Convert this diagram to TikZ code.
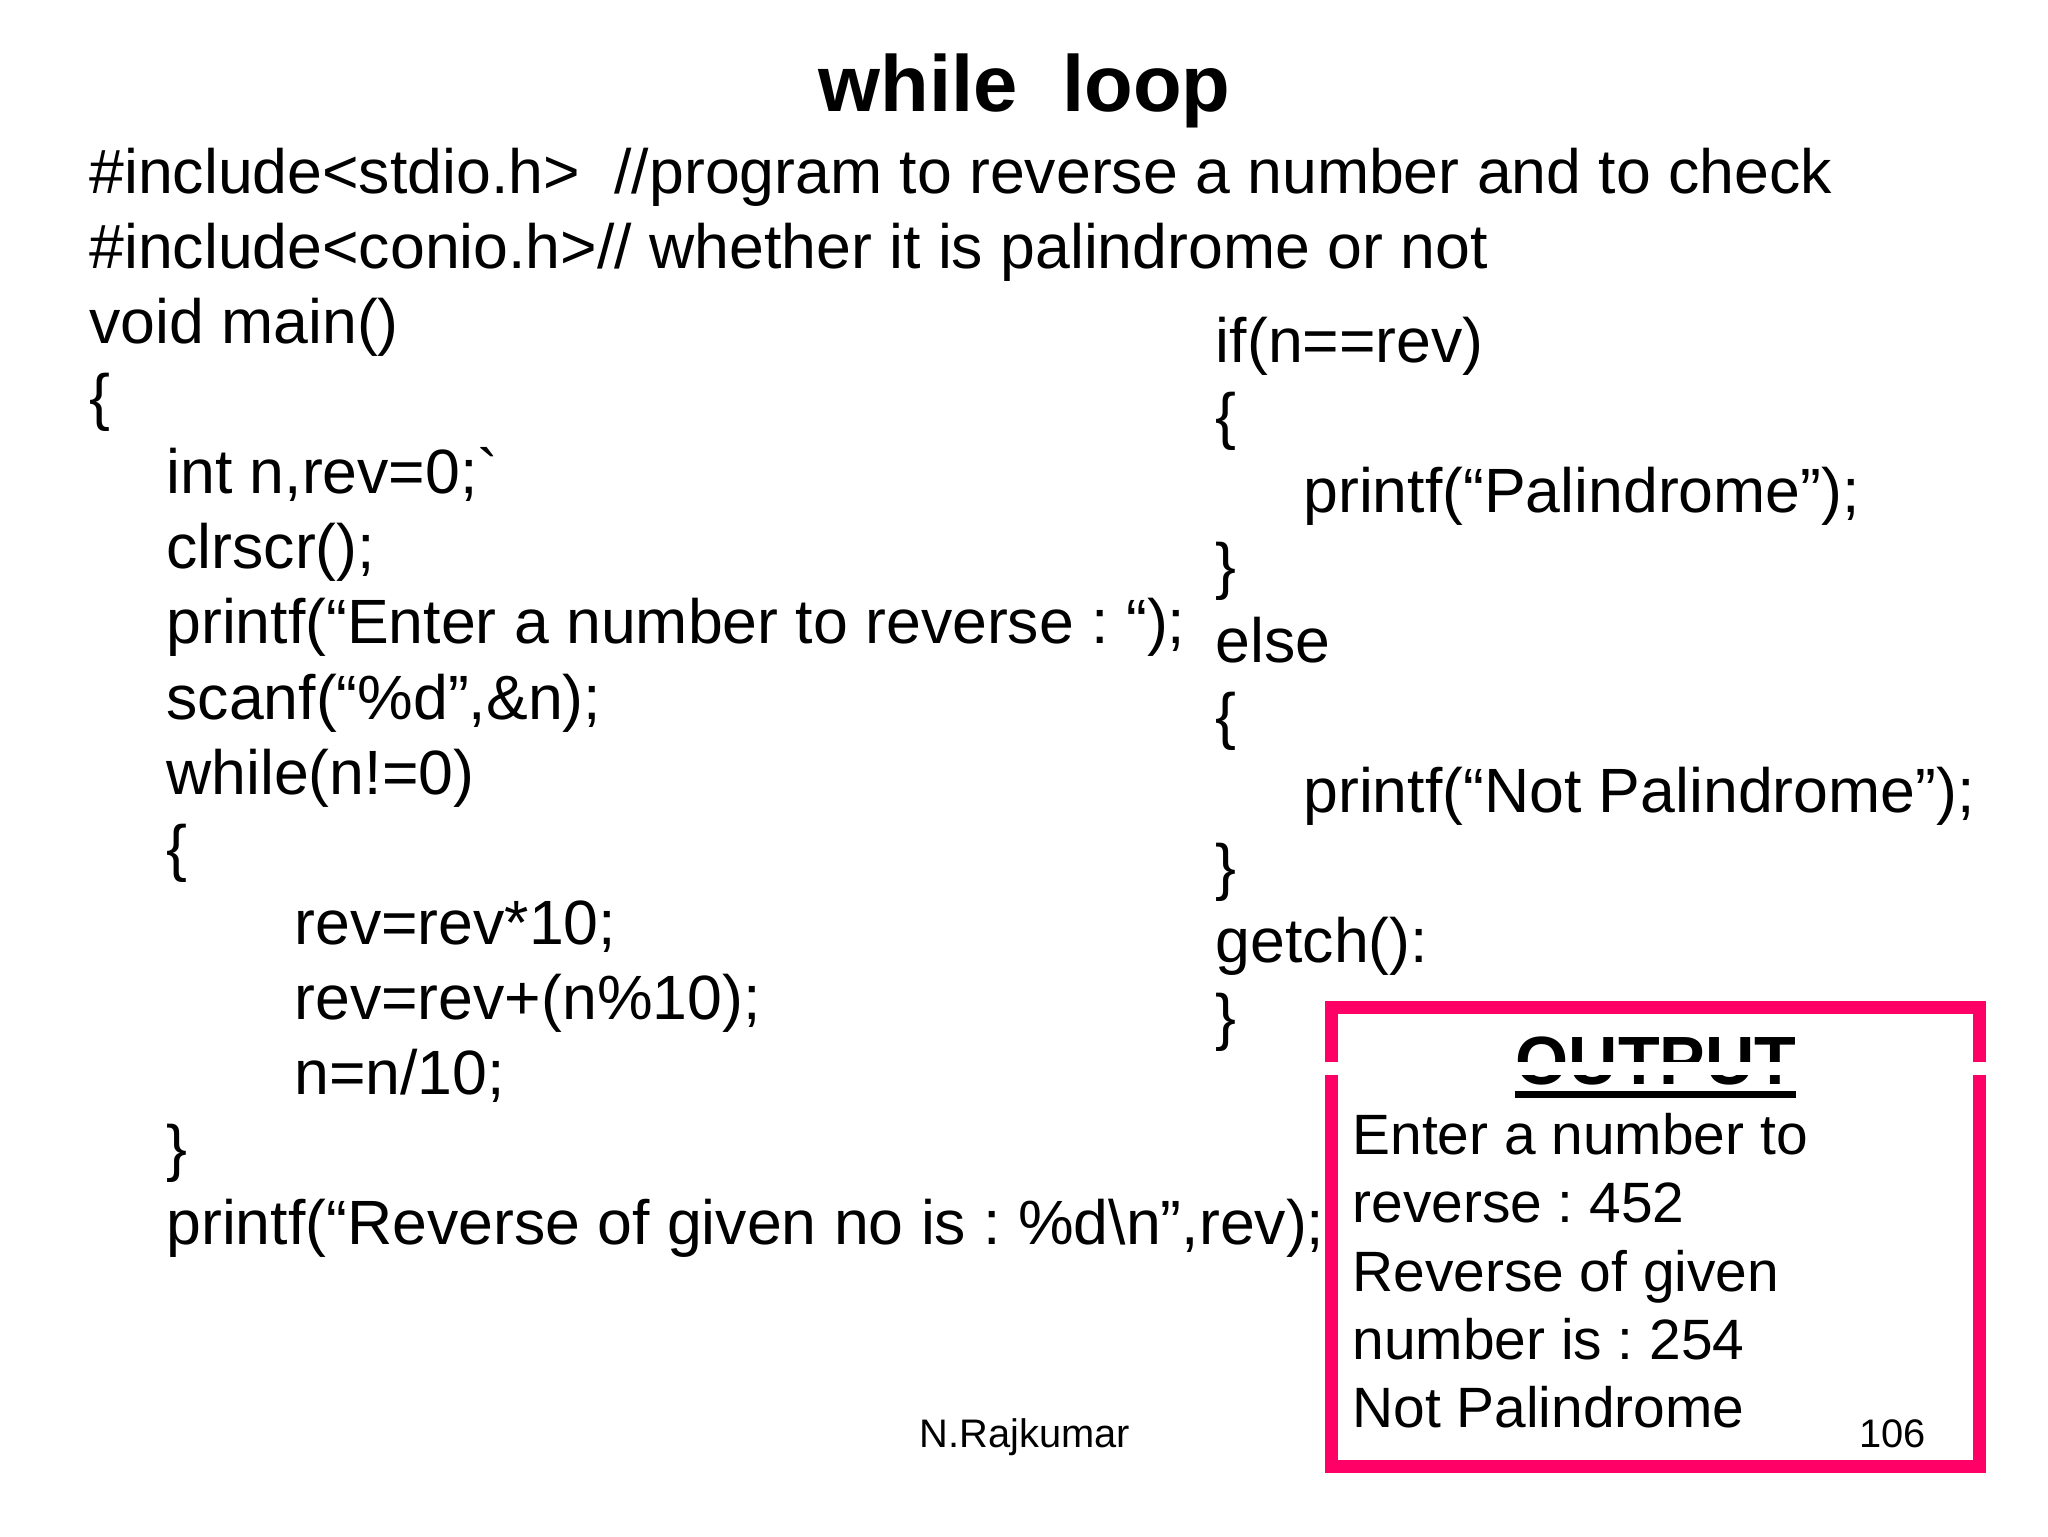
\documentclass[tikz,border=0pt]{standalone}
\usepackage{fontspec}
\setmainfont{Liberation Sans}[Ligatures=TeXOff]
\definecolor{boxpink}{HTML}{FF0066}
\tikzset{
  codeline/.style={anchor=base west,inner sep=0pt,font=\fontsize{22}{22}\selectfont\frenchspacing},
  outline/.style={anchor=base west,inner sep=0pt,font=\fontsize{20}{20}\selectfont\frenchspacing},
  foot/.style={anchor=base,inner sep=0pt,font=\fontsize{14}{14}\selectfont\frenchspacing},
}
\begin{document}
\begin{tikzpicture}[x=0.4592pt,y=-0.4592pt]
\useasboundingbox (0,0) rectangle (1568,1176);
\fill[white] (0,0) rectangle (1568,1176);
\node[anchor=base,inner sep=0pt,font=\fontsize{28}{28}\selectfont\bfseries] (title) at (784.5,85) {while\ \ loop};
\node[codeline] (l1) at (68,148) {\#include<stdio.h>\ \ //program to reverse a number and to check};
\node[codeline] (l2) at (68,205.5) {\#include<conio.h>// whether it is palindrome or not};
\node[codeline] (l3) at (68,263) {void main()};
\node[codeline] (l4) at (68,320.5) {\{};
\node[codeline] (l5) at (127,378) {int n,rev=0;`};
\node[codeline] (l6) at (127,435.5) {clrscr();};
\node[codeline] (l7) at (127,493) {printf(“Enter a number to reverse : “);};
\node[codeline] (l8) at (127,550.5) {scanf(“\%d”,\&n);};
\node[codeline] (l9) at (127,608) {while(n!=0)};
\node[codeline] (l10) at (127,665.5) {\{};
\node[codeline] (l11) at (225,723) {rev=rev*10;};
\node[codeline] (l12) at (225,780.5) {rev=rev+(n\%10);};
\node[codeline] (l13) at (225,838) {n=n/10;};
\node[codeline] (l14) at (127,895.5) {\}};
\node[codeline] (l15) at (127,953) {printf(“Reverse of given no is : \%d\textbackslash n”,rev);};
\node[codeline] (r1) at (930.5,277.5) {if(n==rev)};
\node[codeline] (r2) at (930.5,335) {\{};
\node[codeline] (r3) at (997.5,392) {printf(“Palindrome”);};
\node[codeline] (r4) at (930.5,450) {\}};
\node[codeline] (r5) at (930.5,507) {else};
\node[codeline] (r6) at (930.5,565) {\{};
\node[codeline] (r7) at (997.5,622) {printf(“Not Palindrome”);};
\node[codeline] (r8) at (930.5,680) {\}};
\node[codeline] (r9) at (930.5,737) {getch():};
\node[codeline] (r10) at (930.5,795) {\}};
\fill[white] (1020,772) rectangle (1515,1122);
\draw[boxpink,line width=4.6pt,line join=miter] (1019.5,771.5) rectangle (1515.5,1122.5);
\node[anchor=base,inner sep=0pt,font=\fontsize{24}{24}\selectfont\bfseries] (outhead) at (1268,830) {OUTPUT};
\fill[white] (1005,813) rectangle (1530,823);
\fill[black] (1160,835) rectangle (1375,841);
\node[outline] (o1) at (1035,884) {Enter a number to};
\node[outline] (o2) at (1035,936) {reverse : 452};
\node[outline] (o3) at (1035,988.5) {Reverse of given};
\node[outline] (o4) at (1035,1040.5) {number is : 254};
\node[outline] (o5) at (1035,1093) {Not Palindrome};
\node[foot] (author) at (784.5,1108) {N.Rajkumar};
\node[foot] (page) at (1449,1108) {106};
\end{tikzpicture}
\end{document}
